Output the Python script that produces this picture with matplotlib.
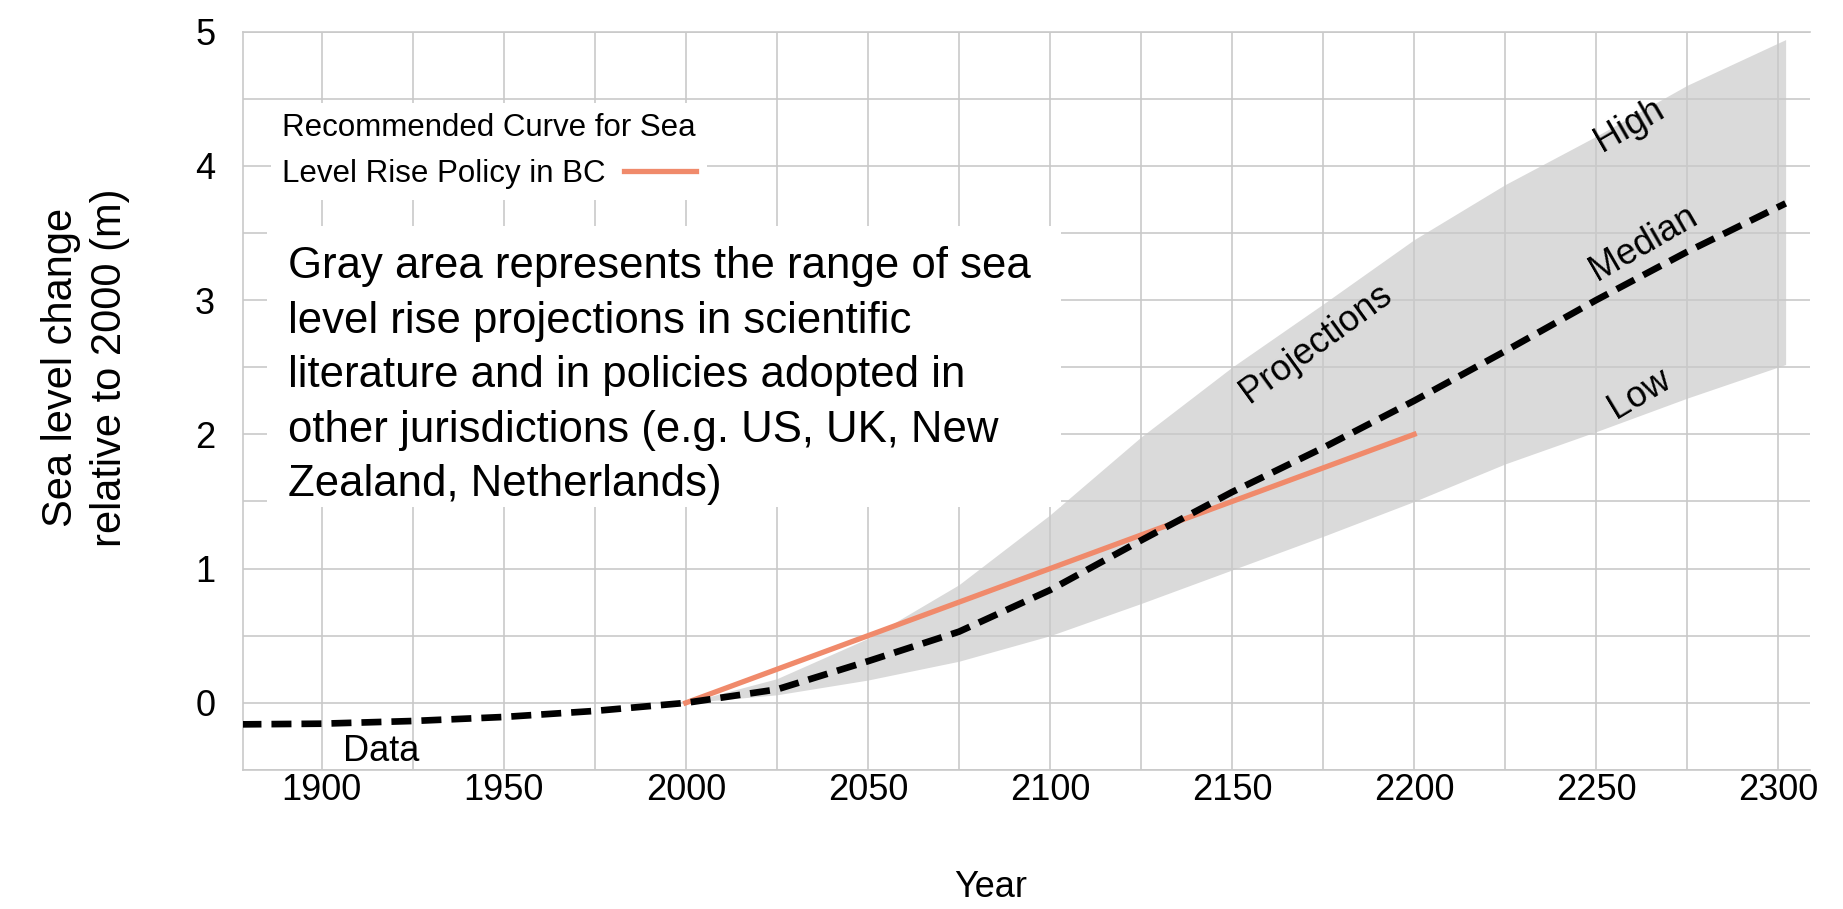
import matplotlib
matplotlib.use('Agg')
import matplotlib.pyplot as plt
from matplotlib.patches import Rectangle
from matplotlib.ticker import MultipleLocator

plt.rcParams['font.family'] = ['Liberation Sans', 'DejaVu Sans']

# Observed sea level (tide gauge data), m relative to 2000
obs_years = [1878, 1900, 1925, 1950, 1975, 2000]
obs_level = [-0.16, -0.155, -0.135, -0.105, -0.06, 0.0]

# Projections: median and the high/low envelope
proj_years = [2000, 2025, 2050, 2075, 2100, 2125, 2150, 2175, 2200, 2225, 2250, 2275, 2302]
proj_median = [0.0, 0.10, 0.31, 0.53, 0.84, 1.21, 1.57, 1.90, 2.25, 2.62, 3.00, 3.36, 3.72]
proj_high = [0.0, 0.18, 0.48, 0.88, 1.40, 1.98, 2.50, 2.97, 3.45, 3.86, 4.22, 4.60, 4.94]
proj_low = [0.0, 0.06, 0.17, 0.31, 0.50, 0.74, 0.99, 1.24, 1.50, 1.78, 2.02, 2.27, 2.52]

# Recommended BC policy curve
bc_years = [2000, 2050, 2100, 2150, 2200]
bc_level = [0.0, 0.5, 1.0, 1.5, 2.0]

# inline labels: text, year, level, rotation
curve_labels = [
    ('Projections', 2173, 2.68, 36),
    ('High', 2259, 4.30, 30),
    ('Median', 2263, 3.42, 30),
    ('Low', 2262, 2.30, 31),
    ('Data', 1916.5, -0.36, 0),
]

note = ('Gray area represents the range of sea\n'
        'level rise projections in scientific\n'
        'literature and in policies adopted in\n'
        'other jurisdictions (e.g. US, UK, New\n'
        'Zealand, Netherlands)')

grid_col = '#c9c9c9'
orange = '#f08a6b'

fig = plt.figure(figsize=(18.43, 9.09), dpi=100)
ax = fig.add_axes([0.1318, 0.1529, 0.8503, 0.8124])

ax.fill_between(proj_years, proj_low, proj_high, color='#dadada', linewidth=0, zorder=1)

ax.plot(obs_years + proj_years[1:], obs_level + proj_median[1:], color='black',
        linewidth=4.8, linestyle=(0, (3, 1.5)), dash_capstyle='butt', zorder=3)
ax.plot(bc_years, bc_level, color=orange, linewidth=3.8, zorder=2.5,
        label='Level Rise Policy in BC')

for txt, x, y, rot in curve_labels:
    ax.text(x, y, txt, fontsize=26, rotation=rot, rotation_mode='anchor',
            ha='center', va='center', zorder=4)

# white background behind the note
ax.add_patch(Rectangle((1885, 1.46), 218, 2.09, facecolor='white', edgecolor='none', zorder=4.5))
ax.text(1890.8, 3.40, note, fontsize=31.5, linespacing=1.42, va='top', ha='left', zorder=5)

leg = ax.legend(title='Recommended Curve for Sea', loc='upper left',
                bbox_to_anchor=(0.008, 0.925), fontsize=22.5, title_fontsize=22.5,
                markerfirst=False, handlelength=2.3, handletextpad=0.6,
                frameon=True, fancybox=False, borderpad=0.35, framealpha=1)
leg.get_frame().set_edgecolor('none')
leg.get_frame().set_facecolor('white')
leg._legend_box.align = 'left'
leg.set_zorder(5)

ax.set_xlim(1878.4, 2308.7)
ax.set_ylim(-0.5, 5)
ax.xaxis.set_major_locator(MultipleLocator(50))
ax.xaxis.set_minor_locator(MultipleLocator(25))
ax.yaxis.set_major_locator(MultipleLocator(1))
ax.yaxis.set_minor_locator(MultipleLocator(0.5))
ax.grid(True, which='both', color=grid_col, linewidth=1.2)
ax.tick_params(which='both', length=0)
ax.tick_params(axis='x', labelsize=26, pad=2)
ax.tick_params(axis='y', labelsize=26, pad=20)

ax.spines['right'].set_visible(False)
for side in ['left', 'top', 'bottom']:
    ax.spines[side].set_color(grid_col)
    ax.spines[side].set_linewidth(1.2)

ax.set_xlabel('Year', fontsize=26)
ax.set_ylabel('Sea level change\nrelative to 2000 (m)', fontsize=30, linespacing=1.3)
ax.xaxis.set_label_coords(0.477, -0.135)
ax.yaxis.set_label_coords(-0.072, 0.545)

fig.savefig('out.png', dpi=100, facecolor='white')
